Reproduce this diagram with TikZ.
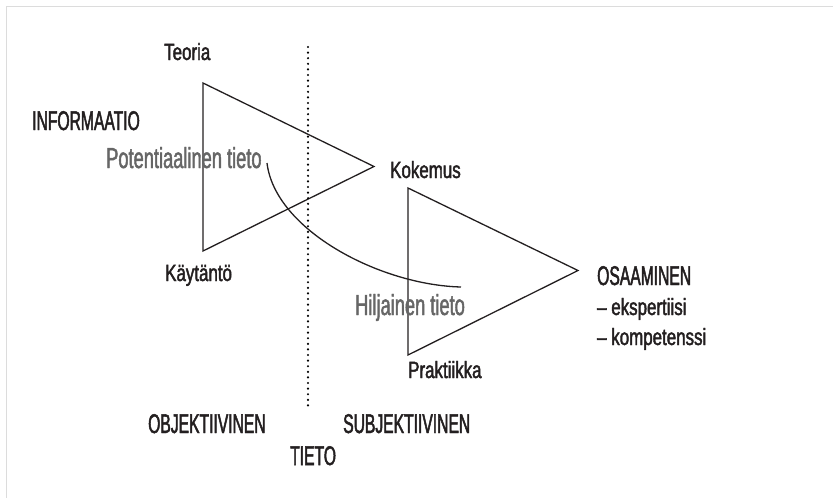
\documentclass[tikz,border=0pt]{standalone}
\usepackage{fontspec}
\setmainfont{Liberation Sans}
\newfontfamily\lowfam{Liberation Sans}[FakeStretch=0.72, FakeBold=1.8]
\newfontfamily\capfam{Liberation Sans}[FakeStretch=0.58, FakeBold=1.8]
\newfontfamily\grayfam{Liberation Sans}[FakeStretch=0.63, FakeBold=1.5]
\definecolor{ink}{HTML}{231F20}
\definecolor{mutedtext}{HTML}{666666}
\definecolor{framegray}{HTML}{DCDCDC}
\tikzset{
  lbl/.style={anchor=base west, inner sep=0pt, text=ink, font=\lowfam\fontsize{23.5}{28}\selectfont},
  caplbl/.style={anchor=base west, inner sep=0pt, text=ink, font=\capfam\fontsize{27}{32}\selectfont},
  graylbl/.style={anchor=base west, inner sep=0pt, text=mutedtext, font=\grayfam\fontsize{29}{34}\selectfont},
  tri/.style={draw=ink, line width=1.3pt, line join=miter},
  divider/.style={draw=black, line width=2.4pt, line cap=round, dash pattern=on 0pt off 5.6pt},
  flow/.style={draw=ink, line width=1.3pt},
}
\begin{document}
\begin{tikzpicture}[x=1pt, y=-1pt]
  \useasboundingbox (0,0) rectangle (833,498);
  % thin frame along the top and left edges
  \draw[framegray, line width=1.5pt] (6.5,498) -- (6.5,6.5) -- (833,6.5);

  % vertices of the two triangles
  \coordinate (t1a) at (203,83);
  \coordinate (t1b) at (203,251);
  \coordinate (t1c) at (374,166.5);
  \coordinate (t2a) at (408,188);
  \coordinate (t2b) at (408,355);
  \coordinate (t2c) at (578,270.5);
  \draw[tri] (t1a) -- (t1c) -- (t1b) -- cycle;
  \draw[tri] (t2a) -- (t2c) -- (t2b) -- cycle;

  % dotted divider between objective and subjective knowledge
  \coordinate (divtop) at (308,47);
  \coordinate (divbot) at (308,407);
  \draw[divider] (divtop) -- (divbot);

  % labels
  \node[lbl] (teoria) at (164,60) {Teoria};
  \node[caplbl] (info) at (32,130) {INFORMAATIO};
  \node[graylbl] (pot) at (106,168) {Potentiaalinen tieto};
  \node[lbl] (kok) at (390,178) {Kokemus};
  \node[lbl] (kay) at (165,281) {Käytäntö};
  \node[graylbl] (hil) at (355,315) {Hiljainen tieto};
  \node[lbl] (prak) at (408,378) {Praktiikka};
  \node[caplbl] (osa) at (597,285) {OSAAMINEN};
  \node[lbl] (eks) at (597,315) {– ekspertiisi};
  \node[lbl] (komp) at (597,345) {– kompetenssi};
  \node[caplbl] (obj) at (148,433) {OBJEKTIIVINEN};
  \node[caplbl] (subj) at (343,433) {SUBJEKTIIVINEN};
  \node[caplbl] (tieto) at (290,465) {TIETO};

  % curve from potential knowledge to tacit knowledge
  \coordinate (cstart) at (267,163);
  \coordinate (cend) at (461,287);
  \draw[flow] (cstart) .. controls (275,230) and (380,285) .. (cend);
\end{tikzpicture}
\end{document}
